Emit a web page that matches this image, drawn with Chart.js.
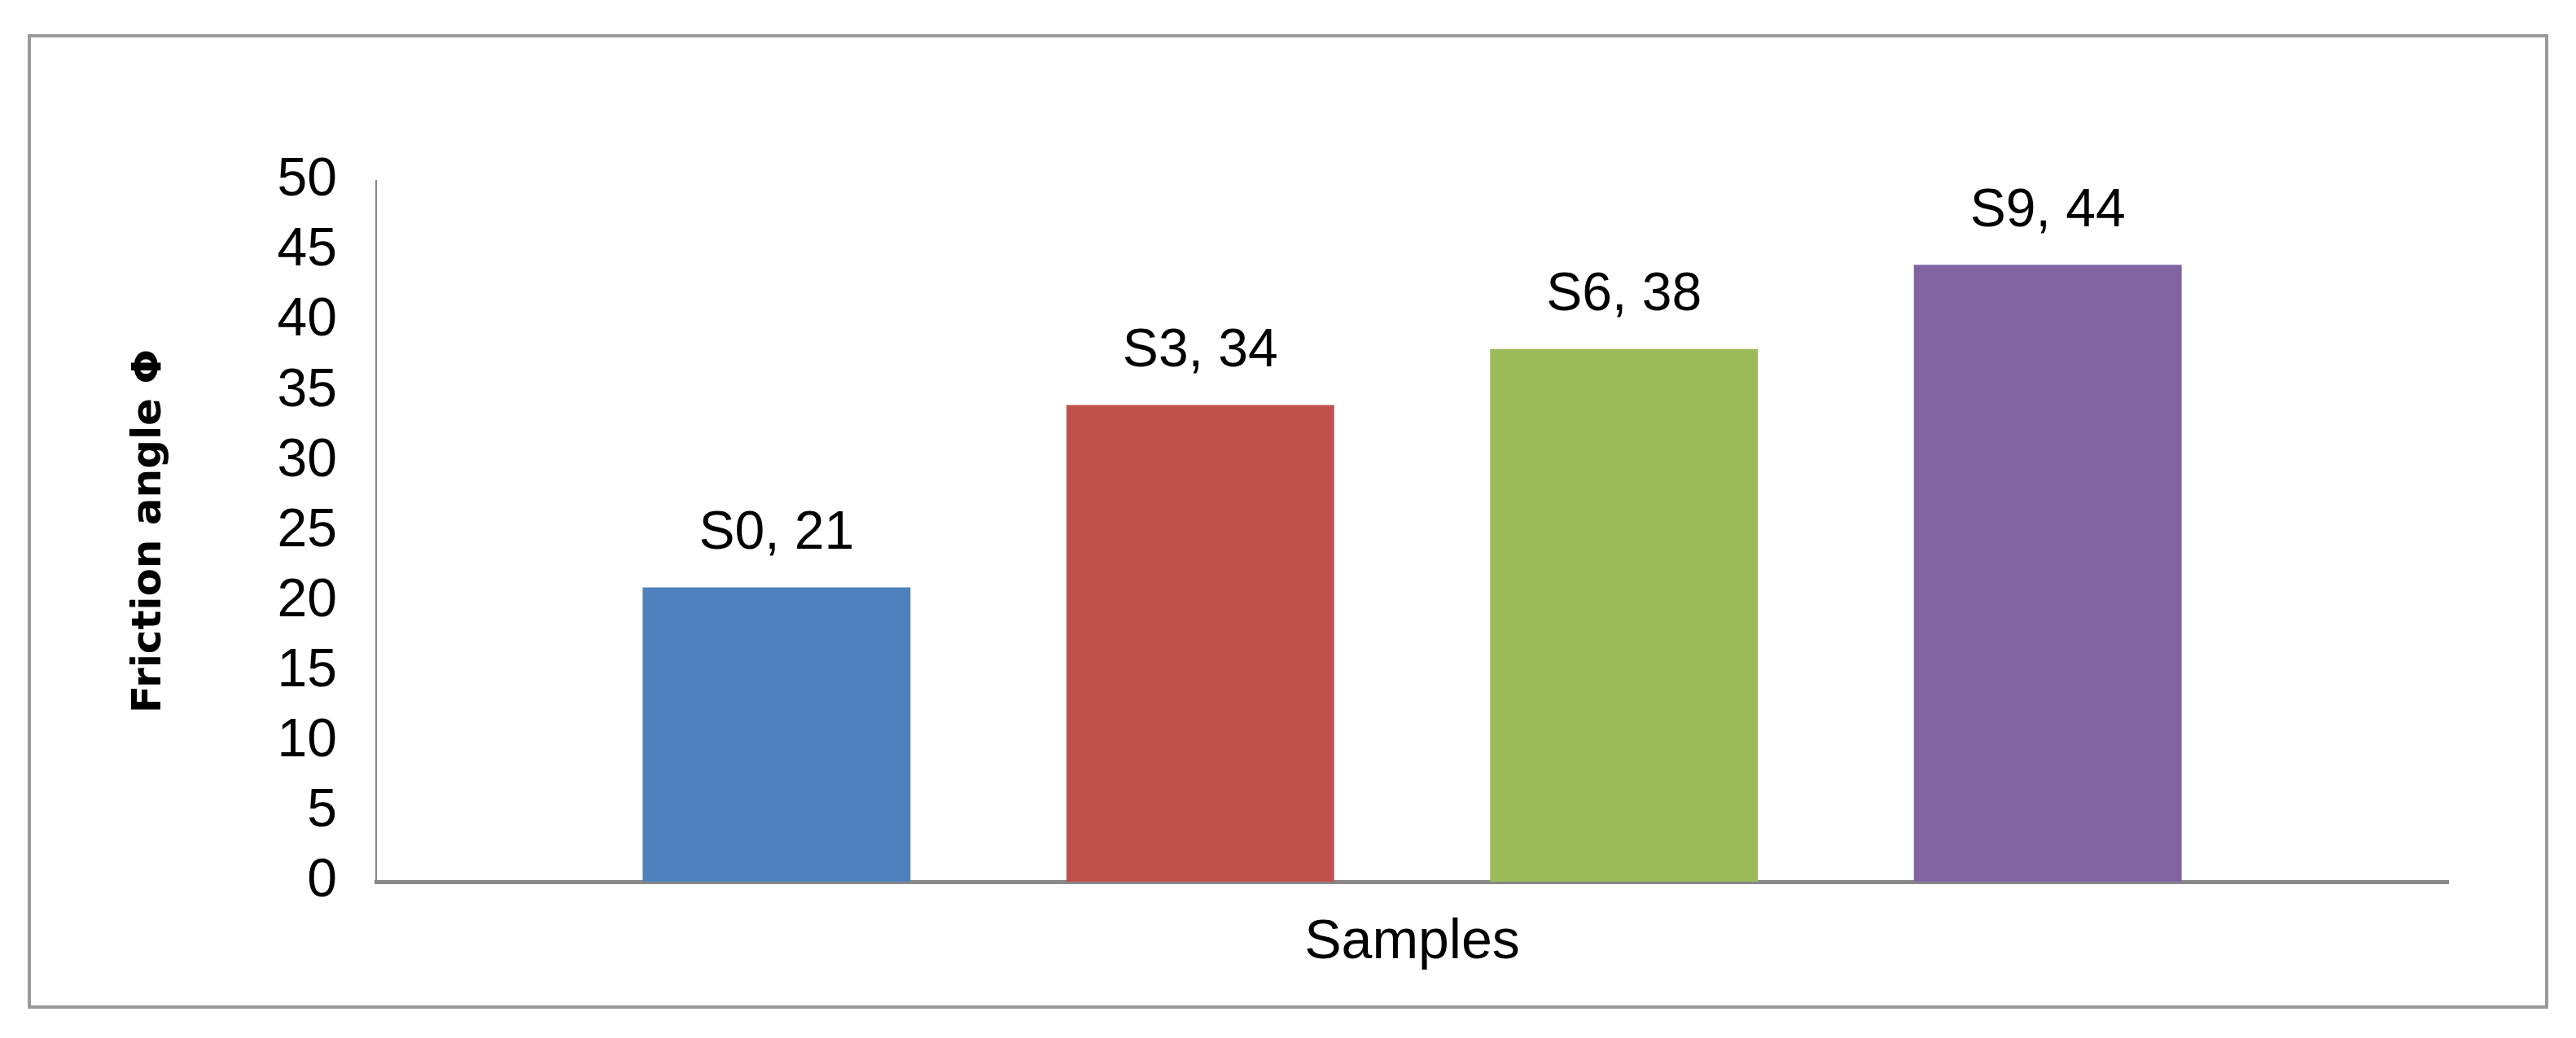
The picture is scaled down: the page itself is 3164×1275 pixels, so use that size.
<!DOCTYPE html>
<html>
<head>
<meta charset="utf-8">
<script src="https://cdn.jsdelivr.net/npm/chart.js@4"></script>
<style>
  html, body { margin: 0; padding: 0; background: #fff; }
  #wrap { width: 3164px; height: 1275px; }
</style>
</head>
<body>
<div id="wrap"><canvas id="myChart" width="3164" height="1275"></canvas></div>
<script>
const samples = ['S0', 'S3', 'S6', 'S9'];
const frictionAngle = [21, 34, 38, 44];
const barColors = ['#4f81bd', '#c0504d', '#9bbb59', '#8064a2'];

const frame = {
    id: 'frame',
    beforeDraw(chart) {
        const c = chart.ctx;
        c.save();
        c.fillStyle = '#fff';
        c.fillRect(0, 0, chart.width, chart.height);
        c.strokeStyle = '#999';
        c.lineWidth = 4;
        c.strokeRect(36, 44, 3092, 1193);
        c.restore();
    }
};

const valueLabels = {
    id: 'valueLabels',
    afterDatasetsDraw(chart) {
        const c = chart.ctx;
        c.save();
        c.font = '66px "Liberation Sans", Arial, sans-serif';
        c.fillStyle = '#000';
        c.textAlign = 'center';
        c.textBaseline = 'middle';
        chart.data.datasets.forEach((ds, i) => {
            const bar = chart.getDatasetMeta(i).data[0];
            c.fillText(ds.label + ', ' + ds.data[0], bar.x, bar.y - 66);
        });
        c.restore();
    }
};

const ctx = document.getElementById('myChart').getContext('2d');
new Chart(ctx, {
    type: 'bar',
    data: {
        labels: [''],
        datasets: samples.map((s, i) => ({
            label: s,
            data: [frictionAngle[i]],
            backgroundColor: barColors[i],
            categoryPercentage: 0.818,
            barPercentage: 0.632
        }))
    },
    options: {
        responsive: false,
        animation: false,
        layout: { padding: { left: 150, top: 222, right: 157, bottom: 50 } },
        plugins: { legend: { display: false }, tooltip: { enabled: false } },
        scales: {
            x: {
                grid: { display: false, drawTicks: false },
                border: { color: '#888', width: 5 },
                ticks: { display: false },
                title: {
                    display: true,
                    text: 'Samples',
                    color: '#000',
                    font: { family: '"Liberation Sans", Arial, sans-serif', size: 68 },
                    padding: { top: 0, bottom: 26 }
                },
                afterFit(scale) { scale.height = 142; }
            },
            y: {
                min: 0,
                max: 50,
                grid: { display: false },
                border: { color: '#888', width: 2 },
                ticks: {
                    stepSize: 5,
                    color: '#000',
                    padding: 40,
                    font: { family: '"Liberation Sans", Arial, sans-serif', size: 66 }
                },
                title: {
                    display: true,
                    text: 'Friction angle Φ',
                    color: '#000',
                    font: { family: '"DejaVu Sans", Verdana, sans-serif', size: 50, weight: 'bold' },
                    padding: 4
                },
                afterFit(scale) { scale.width = 312; }
            }
        }
    },
    plugins: [frame, valueLabels]
});
</script>
</body>
</html>
